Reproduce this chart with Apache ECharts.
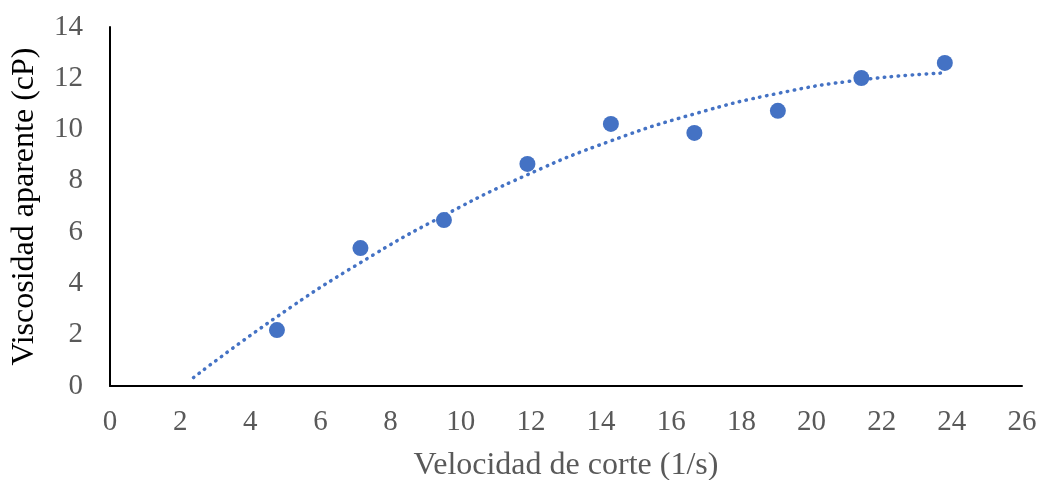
<!DOCTYPE html>
<html>
<head>
<meta charset="utf-8">
<script src="https://cdn.jsdelivr.net/npm/echarts@6/dist/echarts.min.js"></script>
<style>html,body{margin:0;padding:0;background:#fff}#c{width:1043px;height:480px}</style>
</head>
<body>
<div id="c"></div>
<script>
const shearRate = [4.76, 7.14, 9.52, 11.9, 14.28, 16.66, 19.04, 21.42, 23.8];
const viscosity = [2.18, 5.38, 6.47, 8.66, 10.22, 9.87, 10.73, 12.01, 12.60];
const trendX = [2.38, 4.76, 7.14, 9.52, 11.9, 14.28, 16.66, 19.04, 21.42, 23.8];
const trendY = [0.33, 2.70, 4.81, 6.65, 8.24, 9.56, 10.61, 11.41, 11.94, 12.21];
const xTitle = 'Velocidad de corte (1/s)';
const yTitle = 'Viscosidad aparente (cP)';

const chart = echarts.init(document.getElementById('c'));
const font = 'Liberation Serif';
chart.setOption({
  animation: false,
  grid: {left: 110, right: 21, top: 27, bottom: 94, containLabel: false, outerBoundsMode: 'none'},
  xAxis: {
    type: 'value', min: 0, max: 26, interval: 2,
    name: xTitle, nameLocation: 'middle', nameGap: 64,
    nameTextStyle: {fontFamily: font, fontSize: 32, color: '#595959'},
    axisLine: {show: true, lineStyle: {color: '#000', width: 2}},
    axisTick: {show: false},
    splitLine: {show: false},
    axisLabel: {fontFamily: font, fontSize: 29, color: '#595959', margin: 22}
  },
  yAxis: {
    type: 'value', min: 0, max: 14, interval: 2,
    name: yTitle, nameLocation: 'middle', nameGap: 69, nameRotate: 90,
    nameTextStyle: {fontFamily: font, fontSize: 32, color: '#000'},
    axisLine: {show: true, lineStyle: {color: '#000', width: 2}},
    axisTick: {show: false},
    splitLine: {show: false},
    axisLabel: {fontFamily: font, fontSize: 29, color: '#595959', margin: 27}
  },
  series: [
    {
      type: 'line', smooth: true, showSymbol: false,
      data: trendX.map((x, i) => [x, trendY[i]]),
      lineStyle: {color: '#4472C4', width: 3.5, type: [0.5, 6.5], cap: 'round'},
      z: 1
    },
    {
      type: 'scatter', symbolSize: 16,
      data: shearRate.map((x, i) => [x, viscosity[i]]),
      itemStyle: {color: '#4472C4', opacity: 1},
      z: 2
    }
  ]
});
</script>
</body>
</html>
